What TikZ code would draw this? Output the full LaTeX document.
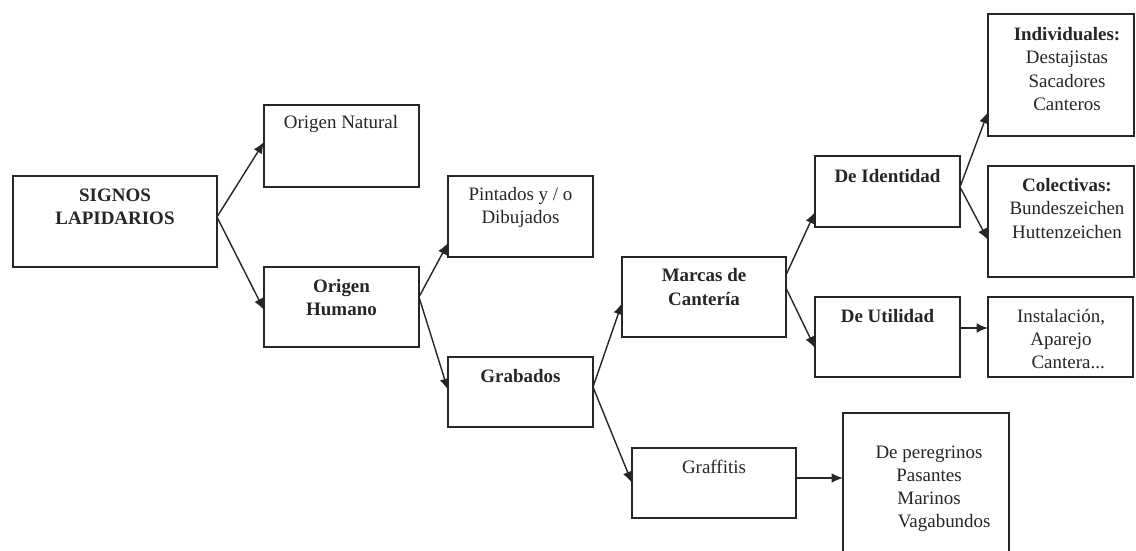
\documentclass[tikz,border=0pt]{standalone}
\usepackage{fontspec}
\setmainfont{Liberation Serif}
\usetikzlibrary{arrows.meta,calc}
\definecolor{ink}{HTML}{262626}
\tikzset{
  box/.style={draw=ink, line width=0.8pt, inner sep=0pt, outer sep=0pt},
  lbl/.style={text=ink, align=center, inner sep=0pt,
    font=\fontsize{10.8}{13.1}\selectfont},
  arr/.style={draw=ink, line width=0.8pt, -{Latex[length=6.5pt,width=5.5pt]}}
}
\begin{document}
\begin{tikzpicture}[x=0.02cm, y=-0.02cm]
  \clip (0,0) rectangle (1136,551);
  \fill[white] (0,0) rectangle (1136,551);
  % boxes
  \node[box, minimum width=4.08cm, minimum height=1.82cm] (signos) at (115,221.5) {};
  \node[box, minimum width=3.10cm, minimum height=1.64cm] (natural) at (341.5,146) {};
  \node[box, minimum width=3.10cm, minimum height=1.60cm] (humano) at (341.5,307) {};
  \node[box, minimum width=2.90cm, minimum height=1.62cm] (pintados) at (520.5,216.5) {};
  \node[box, minimum width=2.90cm, minimum height=1.40cm] (grabados) at (520.5,392) {};
  \node[box, minimum width=3.28cm, minimum height=1.60cm] (marcas) at (704,297) {};
  \node[box, minimum width=3.28cm, minimum height=1.40cm] (graffitis) at (714,483) {};
  \node[box, minimum width=2.90cm, minimum height=1.42cm] (identidad) at (887.5,191.5) {};
  \node[box, minimum width=2.90cm, minimum height=1.60cm] (utilidad) at (887.5,337) {};
  \node[box, minimum width=2.92cm, minimum height=2.44cm] (individuales) at (1061,75) {};
  \node[box, minimum width=2.92cm, minimum height=2.22cm] (colectivas) at (1061,221.5) {};
  \node[box, minimum width=2.90cm, minimum height=1.60cm] (instalacion) at (1060.5,337) {};
  \node[box, minimum width=3.32cm, minimum height=3.14cm] (peregrinos) at (926,491.5) {};
  % texts
  \node[lbl, font=\fontsize{10.8}{13.1}\selectfont\bfseries] (signos-t) at (115,207) {SIGNOS\\LAPIDARIOS};
  \node[lbl] (natural-t) at (341,124) {Origen Natural};
  \node[lbl, font=\fontsize{10.8}{13.1}\selectfont\bfseries] (humano-t) at (341.5,297.5) {Origen\\Humano};
  \node[lbl] (pintados-t) at (520.5,207) {Pintados y / o\\Dibujados};
  \node[lbl, font=\fontsize{10.8}{13.1}\selectfont\bfseries] (grabados-t) at (520.5,376) {Grabados};
  \node[lbl, font=\fontsize{10.8}{13.1}\selectfont\bfseries] (marcas-t) at (704,287) {Marcas de\\Cantería};
  \node[lbl] (graffitis-t) at (714,467) {Graffitis};
  \node[lbl, font=\fontsize{10.8}{13.1}\selectfont\bfseries] (identidad-t) at (887.5,176) {De Identidad};
  \node[lbl, font=\fontsize{10.8}{13.1}\selectfont\bfseries] (utilidad-t) at (887.5,316) {De Utilidad};
  \node[lbl] (individuales-t) at (1067,69) {\textbf{Individuales:}\\Destajistas\\Sacadores\\Canteros};
  \node[lbl] (colectivas-t) at (1067,208.5) {\textbf{Colectivas:}\\Bundeszeichen\\Huttenzeichen};
  \node[lbl] (instalacion-t) at (1061,339.5) {Instalación,\\Aparejo\\\hspace*{0.75em}Cantera...};
  \node[lbl] (peregrinos-t) at (929,489) {De peregrinos\\Pasantes\\Marinos\\\hspace*{1.6em}Vagabundos};
  % connectors
  \draw[arr] ($(signos.east)+(0,-4.5)$) -- ($(natural.west)+(0,-4)$);
  \draw[arr] ($(signos.east)+(0,-4.5)$) -- ($(humano.west)+(0,3)$);
  \draw[arr] ($(humano.east)+(0,-10)$) -- ($(pintados.west)+(0,26.5)$);
  \draw[arr] ($(humano.east)+(0,-10)$) -- ($(grabados.west)+(0,-2)$);
  \draw[arr] ($(grabados.east)+(0,-5)$) -- ($(marcas.west)+(0,6)$);
  \draw[arr] ($(grabados.east)+(0,-5)$) -- (graffitis.west);
  \draw[arr] ($(marcas.east)+(0,-22)$) -- ($(identidad.west)+(0,20.5)$);
  \draw[arr] ($(marcas.east)+(0,-9)$) -- ($(utilidad.west)+(0,11)$);
  \draw[arr] ($(identidad.east)+(0,-4.5)$) -- ($(individuales.west)+(0,37)$);
  \draw[arr] ($(identidad.east)+(0,-4.5)$) -- ($(colectivas.west)+(0,18.5)$);
  \draw[arr] ($(utilidad.east)+(0,-9)$) -- ($(instalacion.west)+(0,-9)$);
  \draw[arr] ($(graffitis.east)+(0,-5)$) -- ($(peregrinos.west)+(0,-13.5)$);
\end{tikzpicture}
\end{document}
